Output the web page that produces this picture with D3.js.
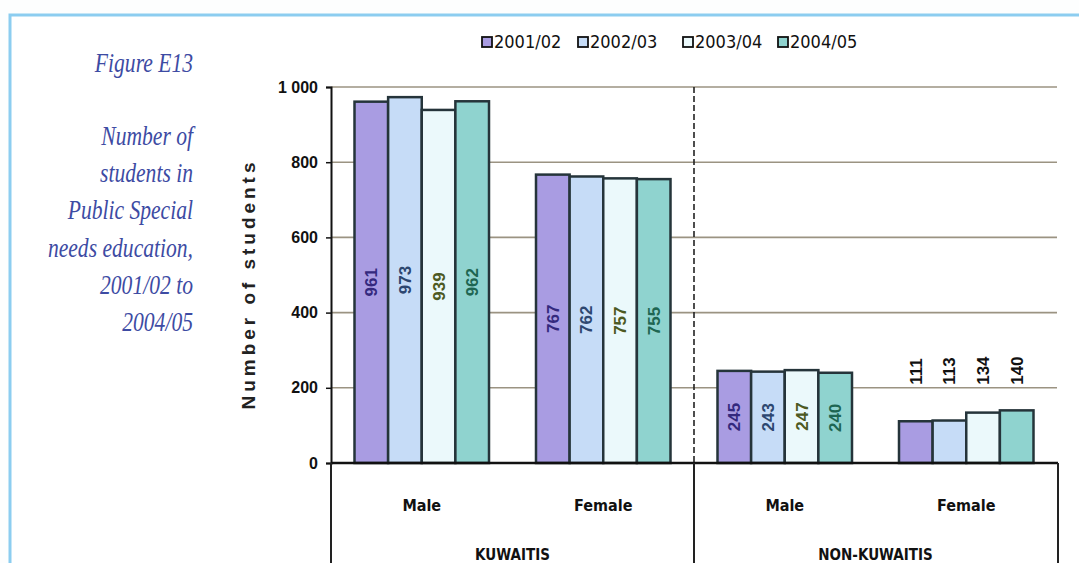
<!DOCTYPE html>
<html>
<head>
<meta charset="utf-8">
<script src="https://cdn.jsdelivr.net/npm/d3@7/dist/d3.min.js"></script>
<style>
  html, body { margin: 0; padding: 0; background: #fdfefe; }
  svg { display: block; }
</style>
</head>
<body>
<svg id="chart" width="1079" height="563"></svg>
<script>
// ---- data ----
const years = ["2001/02", "2002/03", "2003/04", "2004/05"];
const nationalities = ["KUWAITIS", "NON-KUWAITIS"];
const genders = ["Male", "Female"];
const kuwaitiMale = [961, 973, 939, 962];
const kuwaitiFemale = [767, 762, 757, 755];
const nonKuwaitiMale = [245, 243, 247, 240];
const nonKuwaitiFemale = [111, 113, 134, 140];
const yTicks = [0, 200, 400, 600, 800, 1000];
const yTickLabels = ["0", "200", "400", "600", "800", "1 000"];
const captionLines = ["Number of", "students in", "Public Special", "needs education,", "2001/02 to", "2004/05"];
const captionTitle = "Figure E13";
const yTitle = "Number of students";

// groups in drawing order
const groups = [
  { key: "KM", nat: 0, gender: 0, values: kuwaitiMale, inside: true },
  { key: "KF", nat: 0, gender: 1, values: kuwaitiFemale, inside: true },
  { key: "NM", nat: 1, gender: 0, values: nonKuwaitiMale, inside: true },
  { key: "NF", nat: 1, gender: 1, values: nonKuwaitiFemale, inside: false }
];

const fills = ["#a99ce2", "#c6dcf7", "#ebf9fb", "#8fd3cf"];
const labelColors = ["#34297e", "#2d4770", "#4d5a22", "#1e6652"];

const svg = d3.select("#chart");
const plotLeft = 331, plotRight = 1057, plotTop = 87, plotBase = 463;

// frame
svg.append("rect").attr("x", 10).attr("y", 15).attr("width", 1100).attr("height", 600)
  .attr("fill", "#ffffff").attr("stroke", "#8ccdf0").attr("stroke-width", 3);

// caption
const cap = svg.append("g").attr("transform", "translate(193,0) scale(0.8,1)")
  .attr("font-family", "'Liberation Serif', 'DejaVu Serif', serif")
  .attr("font-style", "italic").attr("fill", "#3d4ba3").attr("text-anchor", "end");
cap.append("text").attr("x", 0).attr("y", 72).attr("font-size", 27).text(captionTitle);
cap.selectAll("text.line").data(captionLines).join("text").attr("class", "line")
  .attr("x", 0).attr("y", (d, i) => 145 + i * 37.2).attr("font-size", 27).text(d => d);

// scales
const y = d3.scaleLinear().domain([0, 1000]).range([plotBase, plotTop]);
const x0 = d3.scaleBand().domain(groups.map(g => g.key)).range([plotLeft, plotRight]).padding(0);
const x1 = d3.scaleBand().domain(years).range([23.5, x0.bandwidth() - 23.5]).padding(0);

// gridlines
svg.append("g").selectAll("line").data(yTicks.filter(t => t > 0)).join("line")
  .attr("x1", plotLeft).attr("x2", plotRight).attr("y1", d => y(d)).attr("y2", d => y(d))
  .attr("stroke", "#9b9382").attr("stroke-width", 1.6);

// y axis
const yAxis = d3.axisLeft(y).tickValues(yTicks).tickSize(5).tickPadding(8)
  .tickFormat((d, i) => yTickLabels[i]);
const ya = svg.append("g").attr("transform", `translate(${plotLeft},0)`).call(yAxis);
ya.select(".domain").attr("stroke", "#111").attr("stroke-width", 2);
ya.selectAll(".tick line").attr("stroke", "#111").attr("stroke-width", 1.5);
ya.selectAll(".tick text").attr("font-family", "'Liberation Sans', Arial, sans-serif")
  .attr("font-weight", "bold").attr("font-size", 16).attr("fill", "#111");

// y title
svg.append("text").attr("transform", "translate(255,286) rotate(-90)")
  .attr("text-anchor", "middle").attr("font-family", "'Liberation Sans', Arial, sans-serif")
  .attr("font-weight", "bold").attr("font-size", 19).attr("fill", "#222")
  .attr("textLength", 247).attr("lengthAdjust", "spacing").text(yTitle);

// divider between nationalities (dashed in plot, solid below)
const mid = x0("NM");
svg.append("line").attr("x1", mid).attr("x2", mid).attr("y1", plotTop).attr("y2", plotBase)
  .attr("stroke", "#222").attr("stroke-width", 1.6).attr("stroke-dasharray", "6,3");

// bars
const gsel = svg.append("g").selectAll("g").data(groups).join("g")
  .attr("transform", d => `translate(${x0(d.key)},0)`);
gsel.selectAll("rect").data(d => d.values.map((v, i) => ({ v, i }))).join("rect")
  .attr("x", d => x1(years[d.i])).attr("y", d => y(d.v))
  .attr("width", x1.bandwidth()).attr("height", d => plotBase - y(d.v))
  .attr("fill", d => fills[d.i]).attr("stroke", "#25343a").attr("stroke-width", 2.5);

// value labels
gsel.each(function (g) {
  d3.select(this).selectAll("text").data(g.values.map((v, i) => ({ v, i }))).join("text")
    .attr("transform", d => {
      const cx = x1(years[d.i]) + x1.bandwidth() / 2;
      const cy = g.inside ? (y(d.v) + plotBase) / 2 : y(200) - 3;
      return `translate(${cx + 6},${cy}) rotate(-90)`;
    })
    .attr("text-anchor", g.inside ? "middle" : "start")
    .attr("font-family", "'Liberation Sans', Arial, sans-serif").attr("font-weight", "bold")
    .attr("font-size", 17)
    .attr("fill", d => g.inside ? labelColors[d.i] : "#111")
    .text(d => d.v);
});

// x axis & table below
svg.append("line").attr("x1", plotLeft).attr("x2", plotRight + 1).attr("y1", plotBase).attr("y2", plotBase)
  .attr("stroke", "#111").attr("stroke-width", 2.5);
[plotLeft, mid, plotRight + 1].forEach(xv => {
  svg.append("line").attr("x1", xv).attr("x2", xv).attr("y1", plotBase).attr("y2", 563)
    .attr("stroke", "#222").attr("stroke-width", 2);
});
const catFont = "'Liberation Sans Narrow', 'DejaVu Sans Condensed', 'Liberation Sans', sans-serif";
svg.append("g").selectAll("text").data(groups).join("text")
  .attr("x", d => x0(d.key) + x0.bandwidth() / 2).attr("y", 511)
  .attr("text-anchor", "middle").attr("font-family", catFont).attr("font-size", 16)
  .attr("font-weight", "bold").attr("fill", "#111")
  .text(d => genders[d.gender]);
svg.append("g").selectAll("text").data(nationalities).join("text")
  .attr("x", (d, i) => i === 0 ? (plotLeft + mid) / 2 : (mid + plotRight) / 2).attr("y", 560)
  .attr("text-anchor", "middle").attr("font-family", catFont).attr("font-size", 15)
  .attr("font-weight", "bold").attr("fill", "#111").text(d => d);

// legend
const legendX = [482, 578, 683, 778];
const leg = svg.append("g").selectAll("g").data(years).join("g")
  .attr("transform", (d, i) => `translate(${legendX[i]},37)`);
leg.append("rect").attr("width", 10).attr("height", 10).attr("fill", (d, i) => fills[i])
  .attr("stroke", "#111").attr("stroke-width", 1.8);
leg.append("text").attr("x", 12).attr("y", 11).attr("font-family", catFont)
  .attr("font-size", 18).attr("fill", "#111").text(d => d);
</script>
</body>
</html>
